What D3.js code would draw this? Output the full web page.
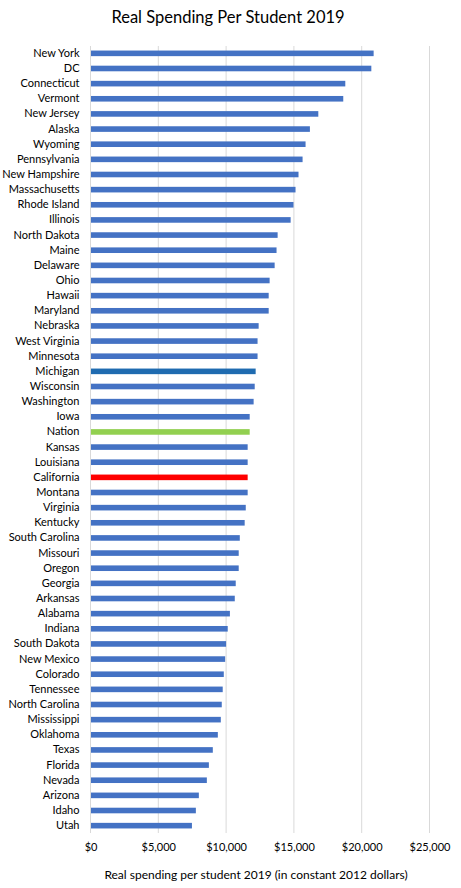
<!DOCTYPE html>
<html>
<head>
<meta charset="utf-8">
<script src="https://cdn.jsdelivr.net/npm/d3@7"></script>
<style>
  html, body { margin: 0; padding: 0; background: #fff; }
  svg { display: block; }
  text { font-family: Lato, "Open Sans", sans-serif; fill: #000; }
</style>
</head>
<body>
<svg id="chart" width="461" height="888"></svg>
<script>
const states = ["New York","DC","Connecticut","Vermont","New Jersey","Alaska","Wyoming","Pennsylvania","New Hampshire","Massachusetts","Rhode Island","Illinois","North Dakota","Maine","Delaware","Ohio","Hawaii","Maryland","Nebraska","West Virginia","Minnesota","Michigan","Wisconsin","Washington","Iowa","Nation","Kansas","Louisiana","California","Montana","Virginia","Kentucky","South Carolina","Missouri","Oregon","Georgia","Arkansas","Alabama","Indiana","South Dakota","New Mexico","Colorado","Tennessee","North Carolina","Mississippi","Oklahoma","Texas","Florida","Nevada","Arizona","Idaho","Utah"];
const spending = [20880,20710,18790,18640,16800,16180,15860,15640,15340,15120,14970,14760,13800,13720,13580,13210,13140,13140,12400,12320,12320,12180,12110,12030,11740,11740,11590,11590,11590,11590,11450,11370,11010,10930,10930,10710,10640,10280,10120,10000,9930,9830,9750,9680,9610,9390,9020,8730,8580,7990,7770,7480];
const xTicks = [0,5000,10000,15000,20000,25000];
const highlight = {"Michigan":"#1F6BB0","Nation":"#92D050","California":"#FF0000"};
const title = "Real Spending Per Student 2019";
const xTitle = "Real spending per student 2019 (in constant 2012 dollars)";

const data = states.map((s,i)=>({state:s, value:spending[i]}));
const svg = d3.select("#chart");
const margin = {left:90.5, right:31.5, top:46, bottom:55};
const W = 461, H = 888;

const x = d3.scaleLinear().domain([0,25000]).range([margin.left, W - margin.right]);
const y = d3.scaleBand().domain(states).range([margin.top, H - margin.bottom]).paddingInner(0.63).paddingOuter(0.3);

// gridlines
svg.append("g").selectAll("line").data(xTicks.slice(1)).join("line")
  .attr("x1", d=>x(d)).attr("x2", d=>x(d))
  .attr("y1", margin.top).attr("y2", H - margin.bottom)
  .attr("stroke", "#d9d9d9").attr("stroke-width", 1);

// bars
svg.append("g").selectAll("rect").data(data).join("rect")
  .attr("x", x(0))
  .attr("y", d=>y(d.state))
  .attr("width", d=>x(d.value)-x(0))
  .attr("height", y.bandwidth())
  .attr("fill", d=>highlight[d.state] || "#4472C4");

// y axis line
svg.append("line").attr("x1", x(0)).attr("x2", x(0))
  .attr("y1", margin.top).attr("y2", H - margin.bottom)
  .attr("stroke", "#d9d9d9");

// y labels
const yAxis = d3.axisLeft(y).tickSize(0).tickPadding(11);
const gy = svg.append("g").attr("transform", `translate(${x(0)},0)`).call(yAxis);
gy.select(".domain").remove();
gy.selectAll("text").style("font-family","Lato, sans-serif").style("font-size","11px").attr("fill","#000");

// x axis
const fmt = d=>"$"+d3.format(",")(d);
const xAxis = d3.axisBottom(x).tickValues(xTicks).tickFormat(fmt).tickSize(0).tickPadding(10);
const gx = svg.append("g").attr("transform", `translate(0,${H - margin.bottom})`).call(xAxis);
gx.select(".domain").remove();
gx.selectAll("text").style("font-family","Lato, sans-serif").style("font-size","11px").attr("fill","#000");

svg.append("text").attr("x", 228).attr("y", 23).attr("text-anchor","middle")
  .style("font-size","16.5px").text(title);
svg.append("text").attr("x", 256).attr("y", 879).attr("text-anchor","middle")
  .style("font-size","12px").text(xTitle);
</script>
</body>
</html>
